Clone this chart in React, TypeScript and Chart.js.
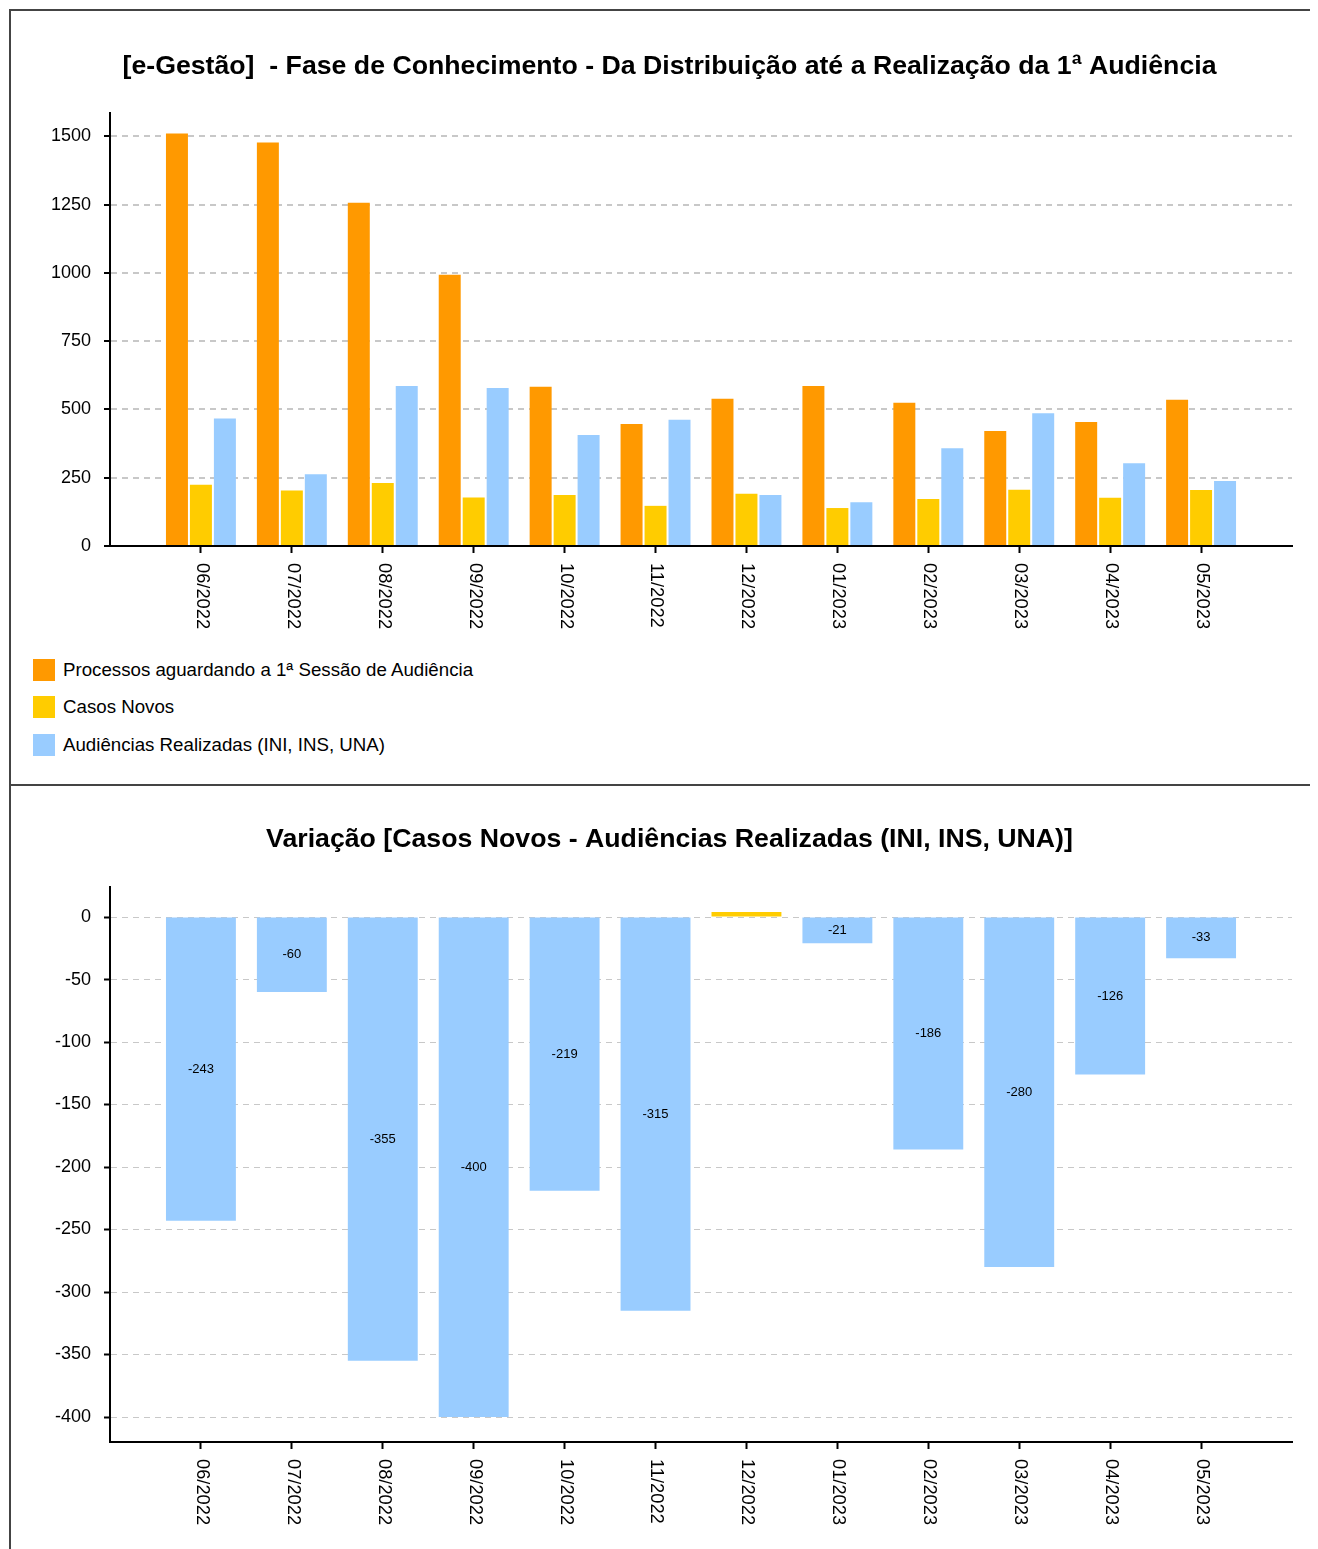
import React, { useEffect, useRef } from 'react';
import { Chart, registerables } from 'chart.js';

Chart.register(...registerables);

const FONT = "'Liberation Sans', Arial, Helvetica, sans-serif";

const months = ['06/2022', '07/2022', '08/2022', '09/2022', '10/2022', '11/2022', '12/2022', '01/2023', '02/2023', '03/2023', '04/2023', '05/2023'];
const pendingHearing = [1510, 1477, 1257, 993, 583, 447, 539, 586, 524, 421, 454, 535];
const newCases = [224, 203, 231, 178, 187, 147, 191, 139, 172, 206, 177, 205];
const hearingsHeld = [467, 263, 586, 578, 406, 462, 187, 160, 358, 486, 303, 238];
const variation = [-243, -60, -355, -400, -219, -315, 4, -21, -186, -280, -126, -33];

const topAxisMax = 1585;
const topStep = 250;
const bottomAxisMin = -420;
const bottomAxisMax = 24;
const bottomStep = 50;

const seriesNames = ['Processos aguardando a 1ª Sessão de Audiência', 'Casos Novos', 'Audiências Realizadas (INI, INS, UNA)'];
const seriesColors = ['#ff9900', '#ffcc00', '#99ccff'];
const topTitle = '[e-Gestão]  - Fase de Conhecimento - Da Distribuição até a Realização da 1ª Audiência';
const bottomTitle = 'Variação [Casos Novos - Audiências Realizadas (INI, INS, UNA)]';

const axisLabels = ['', ...months, ''];

const rotatedXLabels = {
  id: 'rotatedXLabels',
  afterDraw(chart: any) {
    const scale = chart.scales.x;
    const ctx = chart.ctx;
    ctx.save();
    ctx.font = `18.3px ${FONT}`;
    ctx.fillStyle = '#000';
    ctx.textAlign = 'left';
    ctx.textBaseline = 'middle';
    scale.ticks.forEach((t: any, i: number) => {
      const label = axisLabels[t.value];
      if (!label) return;
      const x = scale.getPixelForTick(i);
      ctx.save();
      ctx.translate(x + 1, chart.chartArea.bottom + 17);
      ctx.rotate(Math.PI / 2);
      ctx.fillText(label, 0, 0);
      ctx.restore();
    });
    ctx.restore();
  },
};

const barValueLabels = {
  id: 'barValueLabels',
  afterDatasetsDraw(chart: any) {
    const meta = chart.getDatasetMeta(0);
    const ctx = chart.ctx;
    ctx.save();
    ctx.font = `13px ${FONT}`;
    ctx.fillStyle = '#000';
    ctx.textAlign = 'center';
    ctx.textBaseline = 'middle';
    meta.data.forEach((bar: any, i: number) => {
      const v = variation[i];
      if (v >= 0) return;
      const p = bar.getProps(['x', 'y', 'base'], true);
      ctx.fillText(String(v), p.x, (p.y + p.base) / 2);
    });
    ctx.restore();
  },
};

function xScale(axisHeight: number) {
  return {
    type: 'category',
    labels: axisLabels,
    offset: false,
    grid: {
      display: true,
      drawOnChartArea: false,
      drawTicks: true,
      tickLength: 7,
      tickWidth: 2,
      tickColor: '#000',
      offset: false,
    },
    border: { display: true, color: '#000', width: 2 },
    ticks: { display: false },
    afterBuildTicks: (axis: any) => {
      axis.ticks = axis.ticks.filter((t: any) => axisLabels[t.value] !== '');
    },
    afterFit: (axis: any) => {
      axis.height = axisHeight;
    },
  };
}

function yScale(min: number, max: number, step: number, gridWidth: number) {
  return {
    min,
    max,
    ticks: {
      stepSize: step,
      includeBounds: false,
      font: { size: 18, family: FONT },
      color: '#000',
      padding: 13,
      callback: (v: any) => String(v),
    },
    grid: {
      color: '#c8c8c8',
      lineWidth: gridWidth,
      tickLength: 6,
      tickColor: '#000',
      tickWidth: 2,
    },
    border: { display: true, color: '#000', width: 2, dash: [6, 5] },
    afterFit: (axis: any) => {
      axis.width = 63;
    },
  };
}

const chartPadding = { left: 36, right: 23, top: 0, bottom: 0 };

function TopChart() {
  const ref = useRef<HTMLCanvasElement | null>(null);
  useEffect(() => {
    if (!ref.current) return;
    const datasets = [pendingHearing, newCases, hearingsHeld].map((vals, k) => ({
      label: seriesNames[k],
      data: vals.map((v, i) => ({ x: months[i], y: v })),
      backgroundColor: seriesColors[k],
      borderWidth: 0,
      categoryPercentage: 0.791,
      barPercentage: 0.917,
    }));
    const chart = new Chart(ref.current, {
      type: 'bar',
      data: { labels: axisLabels, datasets } as any,
      options: {
        responsive: false,
        animation: false,
        layout: { padding: chartPadding },
        plugins: {
          legend: { display: false },
          tooltip: { enabled: false },
          title: {
            display: true,
            text: topTitle,
            color: '#000',
            font: { size: 26.7, weight: 'bold', family: FONT, lineHeight: 1.2 },
            padding: { top: 40, bottom: 30 },
          },
        },
        scales: {
          x: xScale(90),
          y: yScale(0, topAxisMax, topStep, 2),
        } as any,
      },
      plugins: [rotatedXLabels],
    });
    return () => chart.destroy();
  }, []);
  return <canvas ref={ref} width={1304} height={625} style={{ display: 'block' }} />;
}

function BottomChart() {
  const ref = useRef<HTMLCanvasElement | null>(null);
  useEffect(() => {
    if (!ref.current) return;
    const chart = new Chart(ref.current, {
      type: 'bar',
      data: {
        labels: axisLabels,
        datasets: [
          {
            label: bottomTitle,
            data: variation.map((v, i) => ({ x: months[i], y: v })),
            backgroundColor: variation.map((v) => (v >= 0 ? seriesColors[1] : seriesColors[2])),
            borderWidth: 0,
            categoryPercentage: 0.791,
            barPercentage: 0.972,
          },
        ],
      } as any,
      options: {
        responsive: false,
        animation: false,
        layout: { padding: chartPadding },
        plugins: {
          legend: { display: false },
          tooltip: { enabled: false },
          title: {
            display: true,
            text: bottomTitle,
            color: '#000',
            font: { size: 26.7, weight: 'bold', family: FONT, lineHeight: 1.2 },
            padding: { top: 38, bottom: 31 },
          },
        },
        scales: {
          x: xScale(114),
          y: yScale(bottomAxisMin, bottomAxisMax, bottomStep, 1),
        } as any,
      },
      plugins: [rotatedXLabels, barValueLabels],
    });
    return () => chart.destroy();
  }, []);
  return <canvas ref={ref} width={1304} height={770} style={{ display: 'block' }} />;
}

export default function App() {
  useEffect(() => {
    document.documentElement.style.overflow = 'hidden';
    document.body.style.overflow = 'hidden';
  }, []);
  return (
    <div style={{ paddingTop: 1, paddingLeft: 1, fontFamily: FONT }}>
      <div style={{ width: 1304, height: 773, border: '2px solid #444' }}>
        <TopChart />
        <div style={{ paddingTop: 15, paddingLeft: 22 }}>
          {seriesNames.map((name, k) => (
            <div key={name} style={{ height: 37.5, display: 'flex', alignItems: 'center' }}>
              <span style={{ width: 22, height: 22, background: seriesColors[k], display: 'inline-block', marginRight: 8 }} />
              <span style={{ fontSize: 18.7, color: '#000' }}>{name}</span>
            </div>
          ))}
        </div>
      </div>
      <div style={{ width: 1304, borderLeft: '2px solid #444', borderRight: '2px solid #444' }}>
        <BottomChart />
      </div>
    </div>
  );
}
